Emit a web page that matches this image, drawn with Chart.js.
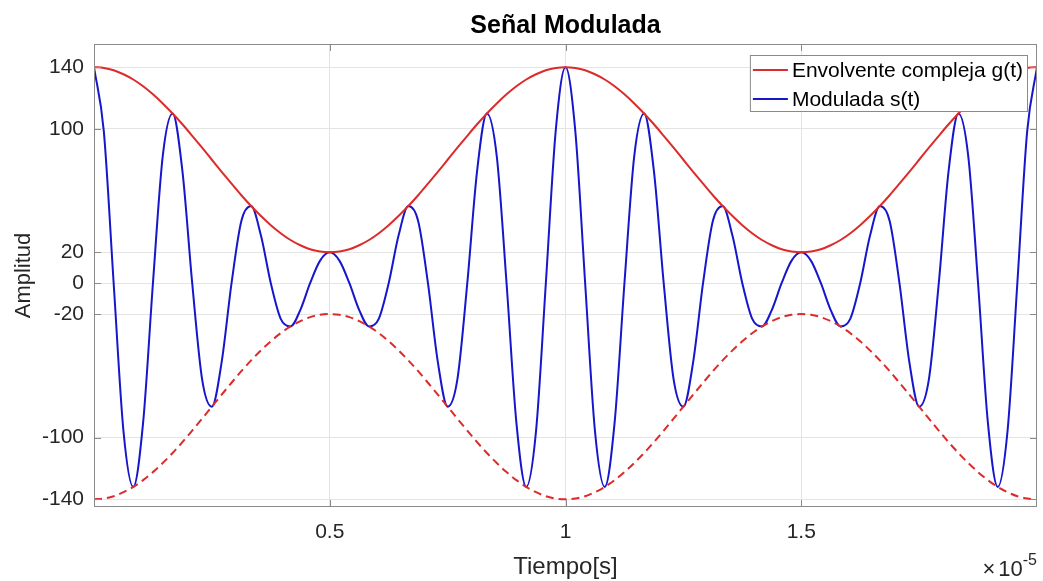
<!DOCTYPE html>
<html lang="es">
<head>
<meta charset="UTF-8">
<title>Señal Modulada</title>
<script src="https://cdn.jsdelivr.net/npm/chart.js"></script>
<style>
  body { margin: 0; background: #fff; }
  canvas { display: block; }
</style>
</head>
<body>
<canvas id="grafica" width="1043" height="581"></canvas>
<script>
// tiempo en unidades de 1e-5 s
const tiempo = [
  0, 0.0208, 0.0417, 0.0625, 0.0833, 0.1042, 0.125, 0.1458, 0.1667, 0.1875, 0.2083, 0.2292,
  0.25, 0.2708, 0.2917, 0.3125, 0.3333, 0.3542, 0.375, 0.3958, 0.4167, 0.4375, 0.4583, 0.4792,
  0.5, 0.5208, 0.5417, 0.5625, 0.5833, 0.6042, 0.625, 0.6458, 0.6667, 0.6875, 0.7083, 0.7292,
  0.75, 0.7708, 0.7917, 0.8125, 0.8333, 0.8542, 0.875, 0.8958, 0.9167, 0.9375, 0.9583, 0.9792,
  1, 1.0208, 1.0417, 1.0625, 1.0833, 1.1042, 1.125, 1.1458, 1.1667, 1.1875, 1.2083, 1.2292,
  1.25, 1.2708, 1.2917, 1.3125, 1.3333, 1.3542, 1.375, 1.3958, 1.4167, 1.4375, 1.4583, 1.4792,
  1.5, 1.5208, 1.5417, 1.5625, 1.5833, 1.6042, 1.625, 1.6458, 1.6667, 1.6875, 1.7083, 1.7292,
  1.75, 1.7708, 1.7917, 1.8125, 1.8333, 1.8542, 1.875, 1.8958, 1.9167, 1.9375, 1.9583, 1.9792, 2
];

const envolvente = [
  140, 139.5, 138.0, 135.4, 132.0, 127.6, 122.4, 116.5, 110, 103.0, 95.5, 87.8,
  80, 72.2, 64.5, 57.0, 50, 43.5, 37.6, 32.4, 28.0, 24.6, 22.0, 20.5,
  20, 20.5, 22.0, 24.6, 28.0, 32.4, 37.6, 43.5, 50, 57.0, 64.5, 72.2,
  80, 87.8, 95.5, 103.0, 110, 116.5, 122.4, 127.6, 132.0, 135.4, 138.0, 139.5,
  140, 139.5, 138.0, 135.4, 132.0, 127.6, 122.4, 116.5, 110, 103.0, 95.5, 87.8,
  80, 72.2, 64.5, 57.0, 50, 43.5, 37.6, 32.4, 28.0, 24.6, 22.0, 20.5,
  20, 20.5, 22.0, 24.6, 28.0, 32.4, 37.6, 43.5, 50, 57.0, 64.5, 72.2,
  80, 87.8, 95.5, 103.0, 110, 116.5, 122.4, 127.6, 132.0, 135.4, 138.0, 139.5, 140
];

const envolventeInf = [
  -140, -139.5, -138.0, -135.4, -132.0, -127.6, -122.4, -116.5, -110, -103.0, -95.5, -87.8,
  -80, -72.2, -64.5, -57.0, -50, -43.5, -37.6, -32.4, -28.0, -24.6, -22.0, -20.5,
  -20, -20.5, -22.0, -24.6, -28.0, -32.4, -37.6, -43.5, -50, -57.0, -64.5, -72.2,
  -80, -87.8, -95.5, -103.0, -110, -116.5, -122.4, -127.6, -132.0, -135.4, -138.0, -139.5,
  -140, -139.5, -138.0, -135.4, -132.0, -127.6, -122.4, -116.5, -110, -103.0, -95.5, -87.8,
  -80, -72.2, -64.5, -57.0, -50, -43.5, -37.6, -32.4, -28.0, -24.6, -22.0, -20.5,
  -20, -20.5, -22.0, -24.6, -28.0, -32.4, -37.6, -43.5, -50, -57.0, -64.5, -72.2,
  -80, -87.8, -95.5, -103.0, -110, -116.5, -122.4, -127.6, -132.0, -135.4, -138.0, -139.5, -140
];

const modulada = [
  140, 98.6, 0, -95.8, -132.0, -90.2, 0, 82.4, 110, 72.8, 0, -62.1,
  -80, -51.0, 0, 40.3, 50, 30.7, 0, -22.9, -28.0, -17.4, 0, 14.5,
  20, 14.5, 0, -17.4, -28.0, -22.9, 0, 30.7, 50, 40.3, 0, -51.0,
  -80, -62.1, 0, 72.8, 110, 82.4, 0, -90.2, -132.0, -95.8, 0, 98.6,
  140, 98.6, 0, -95.8, -132.0, -90.2, 0, 82.4, 110, 72.8, 0, -62.1,
  -80, -51.0, 0, 40.3, 50, 30.7, 0, -22.9, -28.0, -17.4, 0, 14.5,
  20, 14.5, 0, -17.4, -28.0, -22.9, 0, 30.7, 50, 40.3, 0, -51.0,
  -80, -62.1, 0, 72.8, 110, 82.4, 0, -90.2, -132.0, -95.8, 0, 98.6, 140
];

const ticksX = [0.5, 1, 1.5];
const ticksY = [-140, -100, -20, 0, 20, 100, 140];

const FUENTE = "'Liberation Sans', Arial, sans-serif";
const ROJO = '#dc2b2b';
const AZUL = '#1616cc';
const GRIS_EJE = '#8a8a8a';
const GRIS_TEXTO = '#262626';

function puntos(valores) {
  return tiempo.map((t, i) => ({ x: t, y: valores[i] }));
}

// titulo, etiquetas, caja, marcas interiores y leyenda al estilo MATLAB
const decoracion = {
  id: 'decoracion',
  afterDraw(chart) {
    const ctx = chart.ctx;
    const a = chart.chartArea;
    const sx = chart.scales.x, sy = chart.scales.y;
    ctx.save();

    // caja
    ctx.strokeStyle = GRIS_EJE;
    ctx.lineWidth = 1;
    ctx.strokeRect(a.left + 0.5, a.top + 0.5, a.right - a.left - 1, a.bottom - a.top - 1);

    // marcas interiores
    ctx.beginPath();
    ticksY.forEach(v => {
      const y = Math.round(sy.getPixelForValue(v)) + 0.5;
      ctx.moveTo(a.left, y); ctx.lineTo(a.left + 7, y);
      ctx.moveTo(a.right, y); ctx.lineTo(a.right - 7, y);
    });
    ticksX.forEach(v => {
      const x = Math.round(sx.getPixelForValue(v)) + 0.5;
      ctx.moveTo(x, a.bottom); ctx.lineTo(x, a.bottom - 7);
      ctx.moveTo(x, a.top); ctx.lineTo(x, a.top + 7);
    });
    ctx.stroke();

    // titulo
    const cx = (a.left + a.right) / 2;
    ctx.fillStyle = '#000';
    ctx.textAlign = 'center';
    ctx.textBaseline = 'alphabetic';
    ctx.font = 'bold 25px ' + FUENTE;
    ctx.fillText('Señal Modulada', cx, 33);

    // etiquetas de ejes
    ctx.fillStyle = GRIS_TEXTO;
    ctx.font = '24px ' + FUENTE;
    ctx.fillText('Tiempo[s]', cx, 574);

    ctx.save();
    ctx.translate(30, (a.top + a.bottom) / 2);
    ctx.rotate(-Math.PI / 2);
    ctx.font = '22px ' + FUENTE;
    ctx.fillText('Amplitud', 0, 0);
    ctx.restore();

    // multiplicador x10^-5
    ctx.textAlign = 'left';
    ctx.font = '16px ' + FUENTE;
    const wExp = ctx.measureText('-5').width;
    ctx.font = '22px ' + FUENTE;
    const wPor = ctx.measureText('\u00d7').width;
    const wDiez = ctx.measureText('10').width;
    const x0 = a.right - wExp - wDiez - wPor - 3;
    ctx.fillText('\u00d7', x0, 576);
    ctx.fillText('10', x0 + wPor + 3, 576);
    ctx.font = '16px ' + FUENTE;
    ctx.fillText('-5', x0 + wPor + 3 + wDiez, 565);

    // leyenda
    const entradas = [
      { texto: 'Envolvente compleja g(t)', color: ROJO },
      { texto: 'Modulada s(t)', color: AZUL }
    ];
    ctx.font = '21px ' + FUENTE;
    const wTexto = Math.max(...entradas.map(e => ctx.measureText(e.texto).width));
    const bx1 = a.right - 9, by0 = a.top + 11;
    const bx0 = bx1 - (3 + 35 + 4 + wTexto + 5);
    const by1 = by0 + 57;
    ctx.fillStyle = '#fff';
    ctx.fillRect(bx0, by0, bx1 - bx0, by1 - by0);
    ctx.strokeStyle = GRIS_EJE;
    ctx.strokeRect(bx0 + 0.5, by0 + 0.5, bx1 - bx0 - 1, by1 - by0 - 1);
    entradas.forEach((e, i) => {
      const y = by0 + 15 + i * 29;
      ctx.strokeStyle = e.color;
      ctx.lineWidth = 2;
      ctx.beginPath();
      ctx.moveTo(bx0 + 3, y); ctx.lineTo(bx0 + 38, y);
      ctx.stroke();
      ctx.fillStyle = '#000';
      ctx.textBaseline = 'middle';
      ctx.fillText(e.texto, bx0 + 42, y + 1);
    });

    ctx.restore();
  }
};

new Chart(document.getElementById('grafica'), {
  type: 'line',
  data: {
    datasets: [
      { label: 'Envolvente compleja g(t)', data: puntos(envolvente), borderColor: ROJO, borderWidth: 2 },
      { label: 'Envolvente inferior', data: puntos(envolventeInf), borderColor: ROJO, borderWidth: 2, borderDash: [8, 5] },
      { label: 'Modulada s(t)', data: puntos(modulada), borderColor: AZUL, borderWidth: 2 }
    ]
  },
  options: {
    responsive: false,
    animation: false,
    events: [],
    elements: {
      point: { radius: 0 },
      line: { cubicInterpolationMode: 'monotone', fill: false }
    },
    layout: { padding: { top: 44, right: 6, left: 0, bottom: 0 } },
    plugins: {
      legend: { display: false },
      title: { display: false },
      tooltip: { enabled: false }
    },
    scales: {
      x: {
        type: 'linear',
        min: 0,
        max: 2,
        afterBuildTicks(scale) { scale.ticks = ticksX.map(v => ({ value: v })); },
        afterFit(scale) { scale.height = 74; },
        grid: { color: '#e4e4e4', drawTicks: false },
        border: { display: false },
        ticks: {
          color: GRIS_TEXTO,
          font: { family: FUENTE, size: 21 },
          padding: 13,
          maxRotation: 0,
          callback: v => String(v)
        }
      },
      y: {
        min: -145,
        max: 155,
        afterBuildTicks(scale) { scale.ticks = ticksY.map(v => ({ value: v })); },
        afterFit(scale) { scale.width = 94; },
        grid: { color: '#e4e4e4', drawTicks: false },
        border: { display: false },
        ticks: {
          color: GRIS_TEXTO,
          font: { family: FUENTE, size: 21 },
          padding: 10,
          callback: v => String(v)
        }
      }
    }
  },
  plugins: [decoracion]
});
</script>
</body>
</html>
